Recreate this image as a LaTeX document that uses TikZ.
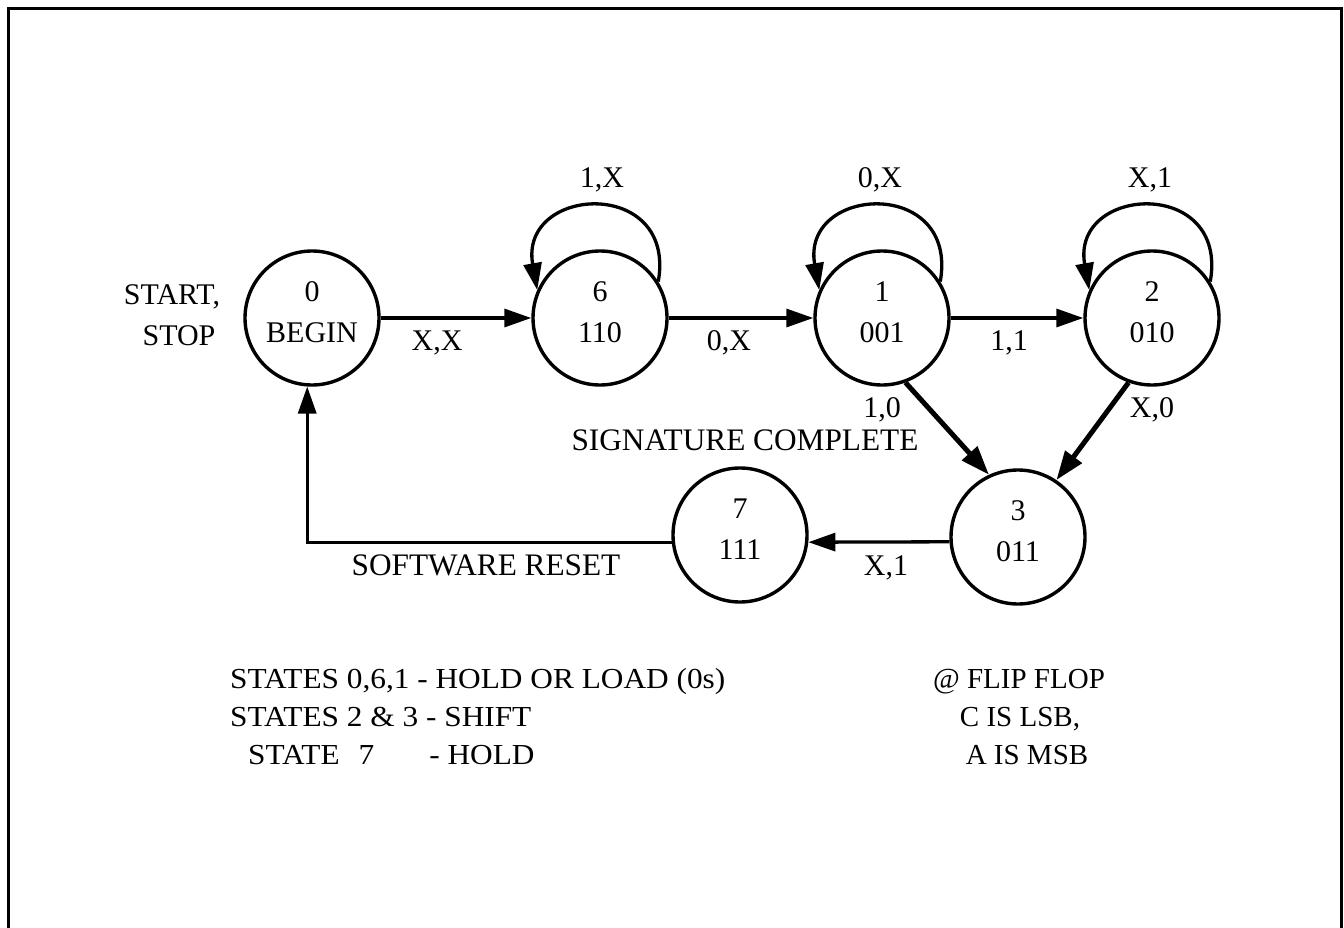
\documentclass[tikz,border=0pt]{standalone}
\usepackage{fontspec}
\setmainfont{Liberation Serif}
\newfontfamily\widenotefont[FakeStretch=1.08]{Liberation Serif}
\usetikzlibrary{arrows.meta}
\newcommand\lowdepth{\rule[-11pt]{0pt}{11pt}}
\begin{document}
\begin{tikzpicture}[x=1pt,y=1pt,
  state/.style={circle, draw, line width=3.4pt, minimum size=134pt, inner sep=0pt,
    align=center, font=\fontsize{30}{41}\selectfont},
  lbl/.style={anchor=base, inner sep=0pt, font=\fontsize{30}{36}\selectfont},
  biglbl/.style={anchor=base, inner sep=0pt, font=\fontsize{31.3}{36}\selectfont},
  note/.style={anchor=base west, inner sep=0pt, font=\widenotefont\fontsize{29}{35}\selectfont},
  notec/.style={anchor=base, inner sep=0pt, font=\fontsize{29}{35}\selectfont},
  arr/.style={line width=3.3pt, -{Triangle[length=27pt,width=18pt]}},
  darr/.style={line width=5pt, -{Triangle[length=29pt,width=20pt]}},
]
\useasboundingbox (0,0) rectangle (1344,-928);
\fill[white] (0,0) rectangle (1344,-928);
% frame
\draw[line width=3.5pt] (8.5,-928) -- (8.5,-8.5) -- (1341.5,-8.5) -- (1341.5,-928);

% states
\node[state] (n0) at (312,-318) {0\\BEGIN\lowdepth};
\node[state] (n6) at (600,-318) {6\\110\lowdepth};
\node[state] (n1) at (882,-318) {1\\001\lowdepth};
\node[state] (n2) at (1152,-318) {2\\010\lowdepth};
\node[state] (n3) at (1018,-537) {3\\011\lowdepth};
\node[state] (n7) at (740,-535) {7\\111\lowdepth};

% transitions
\draw[arr] (n0) -- (n6);
\draw[arr] (n6) -- (n1);
\draw[arr] (n1) -- (n2);
\draw[darr] (n1.290) -- (n3.115);
\draw[darr] (n2.250) -- (n3.56);
\draw[arr] (n3.184) -- (n7.354);
\draw[arr] (n7.186) -| (n0.266);

% self loops
\draw[arr] (n6.32) to[out=80,in=100,looseness=2.25] (n6.156);
\draw[arr] (n1.32) to[out=80,in=100,looseness=2.25] (n1.156);
\draw[arr] (n2.32) to[out=80,in=100,looseness=2.25] (n2.156);

% labels
\node[lbl] (lstart) at (172,-304) {START,};
\node[lbl] (lstop) at (179,-345) {STOP};
\node[lbl] (lxx) at (437,-350) {X,X};
\node[lbl] (l0x) at (729,-350) {0,X};
\node[lbl] (l11) at (1009,-350) {1,1};
\node[lbl] (l1x) at (602,-188) {1,X};
\node[lbl] (l0xl) at (880,-188) {0,X};
\node[lbl] (lx1l) at (1150,-188) {X,1};
\node[lbl] (l10) at (882,-417) {1,0};
\node[lbl] (lx0) at (1152,-417) {X,0};
\node[biglbl] (lsig) at (745,-450) {SIGNATURE COMPLETE};
\node[lbl] (lx1) at (886,-575) {X,1};
\node[biglbl] (lreset) at (486,-575) {SOFTWARE RESET};

% notes
\node[note] (t1) at (230,-688) {STATES 0,6,1 - HOLD OR LOAD (0s)};
\node[note] (t2) at (230,-726) {STATES 2 \& 3 - SHIFT};
\node[note] (t3) at (248,-764) {STATE\hspace{19pt}7\hspace{55pt}- HOLD};
\node[notec] (r1) at (1019,-688) {@ FLIP FLOP};
\node[notec] (r2) at (1020,-726) {C IS LSB,};
\node[notec] (r3) at (1027,-764) {A IS MSB};
\end{tikzpicture}
\end{document}
